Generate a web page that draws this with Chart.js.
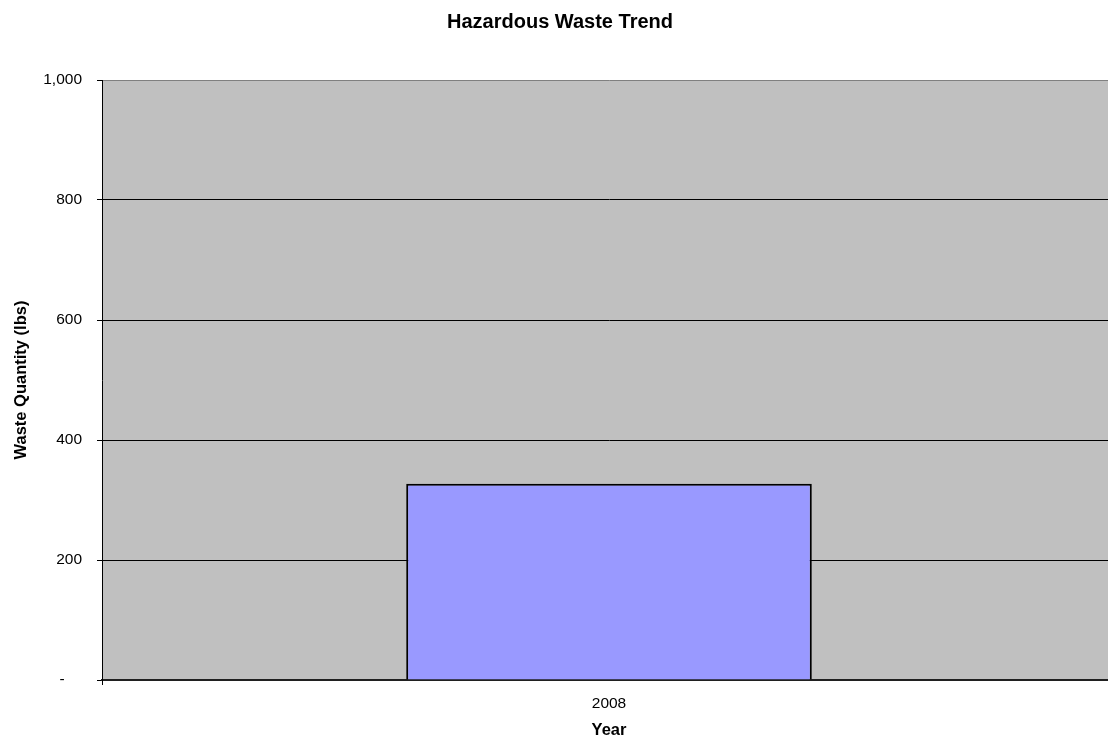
<!DOCTYPE html>
<html>
<head>
<meta charset="utf-8">
<script src="https://cdn.jsdelivr.net/npm/chart.js@4/dist/chart.umd.min.js"></script>
<style>
html,body{margin:0;padding:0;background:#fff;overflow:hidden;}
#wrap{width:1108px;height:741px;position:relative;overflow:hidden;}
canvas{display:block;}
</style>
</head>
<body>
<div id="wrap"><canvas id="c" width="1116" height="741"></canvas></div>
<script>
const categories = ["2008"];
const wasteValues = [327];
const yTickValues = [0, 200, 400, 600, 800, 1000];
const yTickLabels = ["-    ", "200", "400", "600", "800", "1,000"];
const chartTitle = "Hazardous Waste Trend";
const xTitle = "Year";
const yTitle = "Waste Quantity (lbs)";

const FONT = "'Liberation Sans', Arial, sans-serif";

const bgPlugin = {
  id: 'plotBg',
  beforeDraw(chart) {
    const {ctx, chartArea: a} = chart;
    ctx.save();
    ctx.fillStyle = '#C0C0C0';
    ctx.fillRect(a.left, a.top, a.right - a.left, a.bottom - a.top);
    ctx.restore();
  },
  afterDraw(chart) {
    const {ctx} = chart;
    ctx.save();
    ctx.fillStyle = '#000';
    ctx.font = "bold 20px " + FONT;
    ctx.textAlign = 'center';
    ctx.textBaseline = 'middle';
    ctx.fillText(chartTitle, 560, 22);
    ctx.restore();
  }
};

new Chart(document.getElementById('c'), {
  type: 'bar',
  data: {
    labels: categories,
    datasets: [{
      data: wasteValues,
      backgroundColor: '#9999FF',
      borderColor: '#000000',
      borderWidth: 2,
      categoryPercentage: 1.0,
      barPercentage: 0.4
    }]
  },
  options: {
    responsive: false,
    animation: false,
    devicePixelRatio: 1,
    layout: { padding: { top: 80, right: 0, left: 0, bottom: 0 } },
    plugins: {
      legend: { display: false },
      title: { display: false },
      tooltip: { enabled: false }
    },
    scales: {
      x: {
        offset: true,
        grid: { offset: true, drawOnChartArea: false, color: '#000', tickLength: 5 },
        border: { color: '#202020', width: 2 },
        ticks: { color: '#000', font: { family: FONT, size: 15.5 }, padding: 9 },
        title: { display: true, text: xTitle, color: '#000', font: { family: FONT, size: 16.5, weight: 'bold' }, padding: { top: 0, bottom: 1 } },
        afterFit(s) { s.height = 61; }
      },
      y: {
        min: 0, max: 1000,
        afterBuildTicks(s) { s.ticks = yTickValues.map(v => ({ value: v })); },
        grid: { color: (c) => c.tick && c.tick.value === 1000 ? '#808080' : '#000', tickLength: 5, tickColor: '#000' },
        border: { color: '#000', width: 1 },
        ticks: {
          color: '#000', font: { family: FONT, size: 15.5 }, padding: 15,
          callback(v) { const i = yTickValues.indexOf(v); return i >= 0 ? yTickLabels[i] : ''; }
        },
        title: { display: true, text: yTitle, color: '#000', font: { family: FONT, size: 16.5, weight: 'bold' }, padding: { top: 11.5, bottom: 0 } },
        afterFit(s) { s.width = 102; }
      }
    }
  },
  plugins: [bgPlugin]
});
</script>
</body>
</html>
